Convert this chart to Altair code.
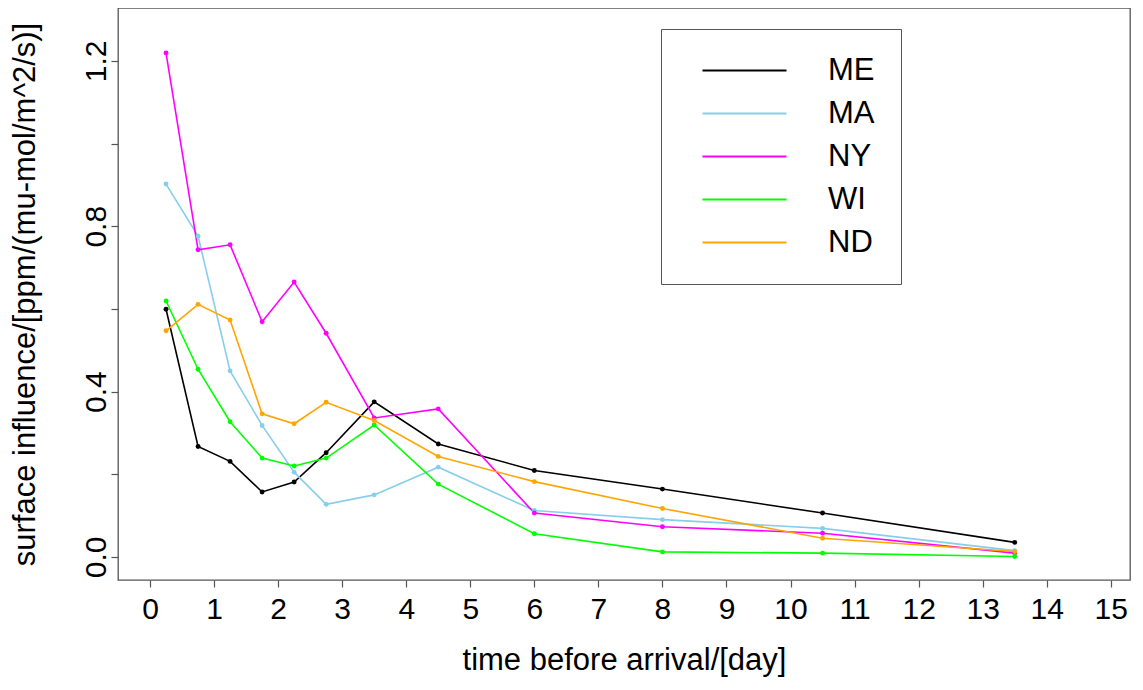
import altair as alt
import pandas as pd

days = [0.25, 0.75, 1.25, 1.75, 2.25, 2.75, 3.5, 4.5, 6, 8, 10.5, 13.5]
ME = [0.599, 0.267, 0.231, 0.157, 0.181, 0.252, 0.375, 0.273, 0.209, 0.164, 0.106, 0.035]
MA = [0.902, 0.776, 0.450, 0.318, 0.205, 0.127, 0.150, 0.217, 0.112, 0.090, 0.069, 0.015]
NY = [1.219, 0.743, 0.755, 0.569, 0.665, 0.541, 0.336, 0.358, 0.106, 0.073, 0.057, 0.009]
WI = [0.619, 0.454, 0.327, 0.239, 0.220, 0.239, 0.319, 0.176, 0.056, 0.012, 0.009, 0.001]
ND = [0.547, 0.611, 0.573, 0.346, 0.322, 0.374, 0.330, 0.243, 0.182, 0.117, 0.045, 0.013]

series_names = ["ME", "MA", "NY", "WI", "ND"]
series_colors = ["#000000", "#87CEEB", "#FF00FF", "#00FF00", "#FFA500"]
x_ticks = list(range(0, 16))
y_ticks = [0.0, 0.2, 0.4, 0.6, 0.8, 1.0, 1.2]

rows = []
for name, vals in zip(series_names, [ME, MA, NY, WI, ND]):
    for i, (d, v) in enumerate(zip(days, vals)):
        rows.append({"day": d, "value": v, "site": name, "order": i})
df = pd.DataFrame(rows)

FONT = "Liberation Sans"
TICK_FS = 30
TITLE_FS = 31

x = alt.X("day:Q",
          scale=alt.Scale(domain=[-0.5, 15.3], nice=False, zero=False),
          axis=alt.Axis(values=x_ticks, format="d", title="time before arrival/[day]",
                        grid=False, domain=False, tickSize=7, tickColor="#555", tickWidth=1.2,
                        labelFontSize=TICK_FS, labelPadding=7, labelColor="#000",
                        labelFont=FONT, titleFont=FONT, titleFontSize=TITLE_FS,
                        titleFontWeight="normal", titlePadding=21, titleColor="#000",
                        labelFlush=False, labelOverlap=False))
y = alt.Y("value:Q",
          scale=alt.Scale(domain=[-0.056, 1.328], nice=False, zero=False),
          axis=alt.Axis(values=y_ticks, format=".1f",
                        labelExpr="(datum.value == 0 || datum.value == 0.4 || datum.value == 0.8 || datum.value == 1.2) ? datum.label : ''",
                        title="surface influence/[ppm/(mu-mol/m^2/s)]",
                        grid=False, domain=False, tickSize=7, tickColor="#555", tickWidth=1.2,
                        labelFontSize=TICK_FS, labelPadding=6, labelAngle=270,
                        labelAlign="center", labelBaseline="alphabetic", labelColor="#000",
                        labelFont=FONT, titleFont=FONT, titleFontSize=TITLE_FS,
                        titleFontWeight="normal", titlePadding=40, titleColor="#000",
                        labelFlush=False, labelOverlap=False))

color = alt.Color("site:N",
                  scale=alt.Scale(domain=series_names, range=series_colors),
                  legend=alt.Legend(title=None, orient="none", legendX=543, legendY=21,
                                    symbolType="M0,0H42", symbolSize=16, symbolStrokeWidth=2,
                                    symbolFillColor="transparent",
                                    labelFontSize=31, labelFont=FONT, labelColor="#000",
                                    labelOffset=110, rowPadding=11, padding=26,
                                    strokeColor="#555", fillColor="white"))

base = alt.Chart(df)
lines = base.mark_line(strokeWidth=1.6).encode(x=x, y=y, color=color, order="order:Q")
pts = base.mark_circle(size=24, opacity=1).encode(x=x, y=y, color=alt.Color("site:N",
                  scale=alt.Scale(domain=series_names, range=series_colors), legend=None))

chart = (lines + pts).properties(
    width=1012, height=572,
    padding={"left": 110, "top": 0, "right": 5, "bottom": 100},
    autosize="none",
    background="white",
).configure_view(stroke="#555", strokeWidth=1.3)

chart.save("out.html", embed_options={"renderer": "svg", "actions": False})
